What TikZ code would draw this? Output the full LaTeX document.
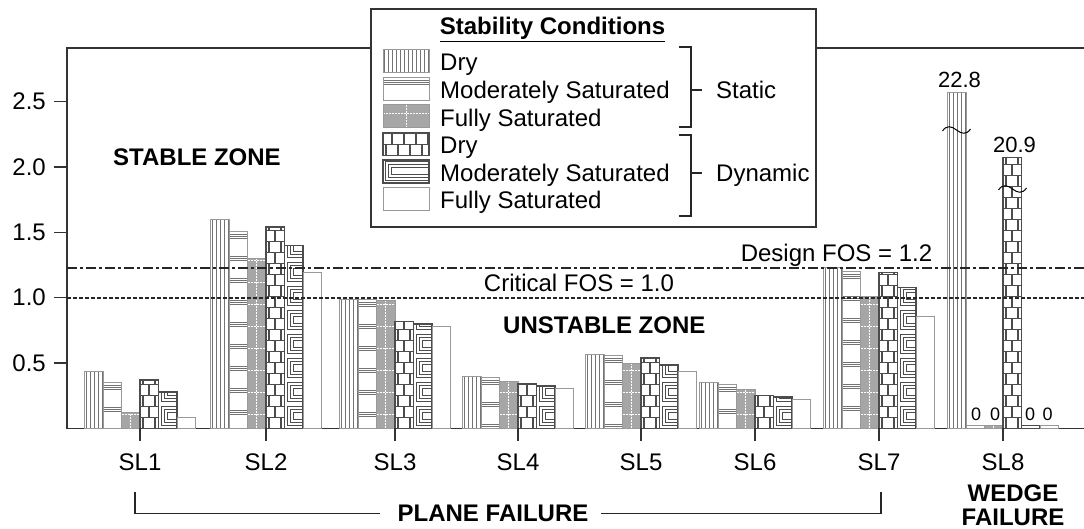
\documentclass[tikz,border=0pt]{standalone}
\usepackage{fontspec}
\setmainfont{Liberation Sans}

\tikzset{
  axisline/.style={line width=1.5pt, black!80},
  patline/.style={line width=0.7pt, black!55},
  lightbox/.style={line width=0.8pt, black!40},
  darkline/.style={line width=1.3pt, black!70},
  brline/.style={line width=1.3pt, black!85},
  lbl/.style={inner sep=0pt, font=\fontsize{24}{28}\selectfont},
  zonelbl/.style={inner sep=0pt, font=\bfseries\fontsize{24}{24}\selectfont},
  numlbl/.style={inner sep=0pt, font=\fontsize{22}{26}\selectfont},
}

\def\yu{130.8}
\def\bw{18.5}

% fill styles of the six conditions: #1 x, #2 y, #3 width, #4 height
\newcommand{\statdry}[4]{%
  \begin{scope}
    \clip (#1,#2) rectangle ++(#3,#4);
    \foreach \k in {0,...,11}
      \draw[patline] (#1+1.8+4*\k,#2) -- ++(0,#4);
  \end{scope}
  \draw[lightbox] (#1,#2) rectangle ++(#3,#4);
}
\newcommand{\statmod}[4]{%
  \begin{scope}
    \clip (#1,#2) rectangle ++(#3,#4);
    \foreach \k in {0,...,10}
      \foreach \dd in {0,2,4}
        \draw[patline] (#1,#2+#4-3-22*\k-\dd) -- ++(#3,0);
  \end{scope}
  \draw[lightbox] (#1,#2) rectangle ++(#3,#4);
}
\newcommand{\statfull}[4]{%
  \begin{scope}
    \clip (#1,#2) rectangle ++(#3,#4);
    \fill[black!35] (#1,#2) rectangle ++(#3,#4);
    \draw[white, line width=1pt, dash pattern=on 2pt off 1pt] (#1+#3/2,#2) -- ++(0,#4);
    \foreach \k in {0,...,10}
      \draw[white, line width=1pt, dash pattern=on 2pt off 1pt] (#1,#2+14+22*\k) -- ++(#3,0);
  \end{scope}
  \draw[lightbox] (#1,#2) rectangle ++(#3,#4);
}
\newcommand{\dyndry}[4]{%
  \begin{scope}
    \clip (#1,#2) rectangle ++(#3,#4);
    \foreach \k in {0,...,25} {
      \draw[darkline] (#1,#2+11*\k) -- ++(#3,0);
      \pgfmathsetmacro{\off}{mod(\k,2)*6}
      \foreach \j in {0,...,3}
        \draw[darkline] (#1+3+\off+12*\j,#2+11*\k) -- ++(0,11);
    }
  \end{scope}
  \draw[darkline] (#1,#2) rectangle ++(#3,#4);
}
\newcommand{\dynmod}[4]{%
  \begin{scope}
    \clip (#1,#2) rectangle ++(#3,#4);
    \foreach \k in {0,...,12}
      \foreach \dd in {2.5,5.5,8.5}
        \draw[darkline, line width=1pt] (#1+#3,#2+24*\k+\dd) -- (#1+\dd,#2+24*\k+\dd)
          -- (#1+\dd,#2+24*\k+24-\dd) -- (#1+#3,#2+24*\k+24-\dd);
  \end{scope}
  \draw[darkline] (#1,#2) rectangle ++(#3,#4);
}
\newcommand{\dynfull}[4]{%
  \draw[lightbox, fill=white] (#1,#2) rectangle ++(#3,#4);
}
\newcommand{\brkmark}[2]{%
  \draw[line width=1pt] (#1-14,#2-1) .. controls (#1-10,#2+5) and (#1-5,#2+4) .. (#1,#2)
    .. controls (#1+5,#2-4) and (#1+10,#2-5) .. (#1+14,#2+1);
}

\begin{document}
\begin{tikzpicture}[x=1pt,y=1pt]
  \useasboundingbox (0,0) rectangle (1084,529);

  % frame and axes
  \draw[axisline] (1084,481) -- (67,481) -- (67,100.5) -- (1084,100.5);
  \foreach \v/\n in {0.5/1,1.0/2,1.5/3,2.0/4,2.5/5} {
    \draw[axisline] (54,100.5+\v*\yu) -- (67,100.5+\v*\yu);
    \node[lbl, anchor=east] (ylab\n) at (46,100.5+\v*\yu) {\v};
  }

  % bars
  \foreach \cx/\ha/\hb/\hc/\hd/\he/\hf [count=\i] in {
      140/0.44/0.355/0.126/0.37/0.28/0.088,
      266/1.60/1.51/1.30/1.54/1.40/1.19,
      395/0.99/0.99/0.98/0.82/0.80/0.78,
      518/0.40/0.39/0.36/0.34/0.325/0.31,
      641/0.57/0.56/0.50/0.54/0.485/0.44,
      755/0.35/0.34/0.30/0.25/0.24/0.22,
      879/1.23/1.20/1.01/1.19/1.08/0.86,
      1003/2.57/0.023/0.023/2.07/0.023/0.023} {
    \statdry{\cx-55.5}{100.5}{\bw}{\ha*\yu}
    \statmod{\cx-37}{100.5}{\bw}{\hb*\yu}
    \statfull{\cx-18.5}{100.5}{\bw}{\hc*\yu}
    \dyndry{\cx}{100.5}{\bw}{\hd*\yu}
    \dynmod{\cx+18.5}{100.5}{\bw}{\he*\yu}
    \dynfull{\cx+37}{100.5}{\bw}{\hf*\yu}
    \draw[axisline] (\cx,100.5) -- (\cx,88);
    \node[lbl] (sl\i) at (\cx,67) {SL\i};
  }

  % SL8 values off the scale
  \brkmark{956.5}{399}
  \brkmark{1012.5}{340}
  \node[numlbl] (v228) at (959.5,449.5) {22.8};
  \node[numlbl] (v209) at (1014.5,384.5) {20.9};
  \foreach \zx [count=\z] in {976,995,1030,1047.5}
    \node[numlbl, font=\fontsize{18}{22}\selectfont] (zero\z) at (\zx,114.5) {0};

  % factor of safety lines
  \draw[line width=1.5pt, black!85, dash pattern=on 10pt off 3pt on 3pt off 3pt] (67,261) -- (1084,261);
  \draw[line width=1.5pt, black!85, dash pattern=on 4pt off 2pt] (67,231) -- (1084,231);
  \node[lbl, anchor=base] (dfos) at (836.5,267.5) {Design FOS = 1.2};
  \node[lbl, anchor=base] (cfos) at (579,237.5) {Critical FOS = 1.0};

  \node[zonelbl, anchor=west] (stable) at (113,372) {STABLE ZONE};
  \node[zonelbl, anchor=west] (unstable) at (503,204) {UNSTABLE ZONE};

  % legend
  \draw[axisline, fill=white] (371,302) rectangle (816,520);
  \node[zonelbl, anchor=base] (ltitle) at (552.5,494) {\underline{Stability Conditions}};
  \foreach \pat/\txt [count=\r] in {statdry/Dry, statmod/Moderately Saturated,
      statfull/Fully Saturated, dyndry/Dry, dynmod/Moderately Saturated,
      dynfull/Fully Saturated} {
    \pgfmathsetmacro{\by}{458-27.6*(\r-1)}
    \csname\pat\endcsname{383}{\by-1.5}{46}{23}
    \node[lbl, anchor=base west] (leg\r) at (440,\by) {\txt};
  }
  \node[lbl, anchor=base west] (stat) at (716,430.4) {Static};
  \node[lbl, anchor=base west] (dyn) at (716,347.6) {Dynamic};
  \coordinate (smid) at (691,439);
  \coordinate (dmid) at (691,356);
  \draw[brline] (679,482) -- (691,482) -- (691,402) -- (679,402);
  \draw[brline] (679,394) -- (691,394) -- (691,313) -- (679,313);
  \draw[brline, shorten >=14pt] (smid) -- (smid -| stat.west);
  \draw[brline, shorten >=14pt] (dmid) -- (dmid -| dyn.west);

  % failure types
  \node[zonelbl] (pf) at (493,15.5) {PLANE FAILURE};
  \coordinate (pfl) at (135,37);
  \coordinate (pfr) at (881,37);
  \draw[brline, shorten >=17pt] (pfl) |- (pf.west);
  \draw[brline, shorten >=12pt] (pfr) |- (pf.east);
  \node[zonelbl, align=center] (wf) at (1013,24) {WEDGE\\FAILURE};
\end{tikzpicture}
\end{document}
